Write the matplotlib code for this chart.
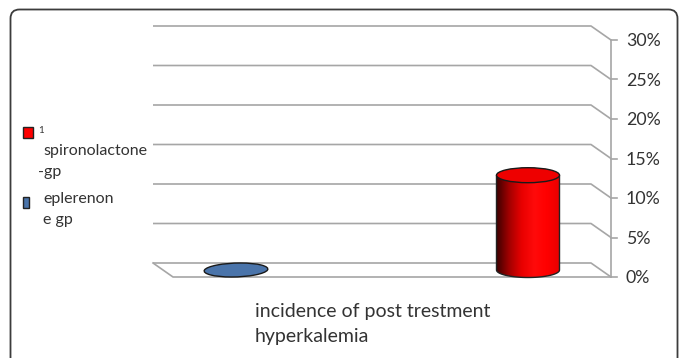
import numpy as np
import matplotlib
matplotlib.use("Agg")
import matplotlib.pyplot as plt
from matplotlib.patches import Ellipse, Rectangle, FancyBboxPatch, PathPatch
from matplotlib.path import Path
from matplotlib.transforms import IdentityTransform
from matplotlib.colors import LinearSegmentedColormap

# ---- data ----
categories = ["eplerenon gp", "spironolactone -gp"]
values = [0.0, 12.0]           # percent
tick_values = [0, 5, 10, 15, 20, 25, 30]
tick_labels = ["0%", "5%", "10%", "15%", "20%", "25%", "30%"]
axis_title = "incidence of post trestment\nhyperkalemia"

# ---- figure ----
W, H, DPI = 681, 358, 100
fig = plt.figure(figsize=(W / DPI, H / DPI), dpi=DPI)
ax = fig.add_axes([0, 0, 1, 1])
px_per_x = 292.0
px_per_y = 7.9
x0_px = 226.0
y0_px = 263.0
ax.set_xlim(-x0_px / px_per_x, (W - x0_px) / px_per_x)
ax.set_ylim(-(H - y0_px) / px_per_y, y0_px / px_per_y)
ax.axis("off")

dx = 20.0 / px_per_x
dy = 14.0 / px_per_y
xl, xr = -0.25, 1.25
grid_c = "#a6a6a6"
lw = 1.2

for t in tick_values:
    ax.plot([xl, xr, xr + dx], [t, t, t - dy], color=grid_c, lw=lw, zorder=1,
            solid_capstyle="butt")
    ax.plot([xr + dx, xr + dx + 6 / px_per_x], [t - dy, t - dy], color=grid_c, lw=lw, zorder=1)
ax.plot([xl, xl + dx, xr + dx], [0, -dy, -dy], color=grid_c, lw=lw, zorder=1)
ax.plot([xr + dx, xr + dx], [-dy, tick_values[-1] - dy], color=grid_c, lw=lw, zorder=1)
for t, lab in zip(tick_values, tick_labels):
    ax.text(xr + dx + 15 / px_per_x, t - dy - 0.15, lab, ha="left", va="center",
            fontsize=12.8, family="Lato", color="#333333")

# ---- bars (cylinders) ----
bw = 63.0 / px_per_x
eh = 15.0 / px_per_y
cmap = LinearSegmentedColormap.from_list(
    "cyl", ["#3a0000", "#a00000", "#e80000", "#ff0a0a", "#ff0000", "#e80000"])
face_cols = ["#4a74aa", "#ee0000"]
for i, v in enumerate(values):
    cx = i + dx / 2
    yb = -dy / 2
    yt = v - dy / 2
    if v > 0:
        th = np.linspace(np.pi, 2 * np.pi, 60)
        verts = [(cx - bw / 2, yt)]
        verts += [(cx + bw / 2 * np.cos(a), yb + eh / 2 * np.sin(a)) for a in th]
        verts += [(cx + bw / 2, yt), (cx - bw / 2, yt)]
        path = Path(verts, closed=True)
        body = PathPatch(path, facecolor="none", edgecolor="#222222", lw=1.0, zorder=3)
        ax.add_patch(body)
        grad = np.linspace(0, 1, 200).reshape(1, -1)
        im = ax.imshow(grad, cmap=cmap, aspect="auto", interpolation="bilinear",
                       extent=[cx - bw / 2, cx + bw / 2, yb - eh / 2, yt], zorder=2)
        im.set_clip_path(body)
        ax.add_patch(Ellipse((cx, yt), bw, eh, facecolor=face_cols[i],
                             edgecolor="#1a1a1a", lw=1.0, zorder=4))
    else:
        ax.add_patch(Ellipse((cx, yt), bw, 14.0 / px_per_y, angle=-1.0,
                             facecolor=face_cols[i], edgecolor="#1a1a1a", lw=1.0, zorder=4))

ax.set_xlim(-x0_px / px_per_x, (W - x0_px) / px_per_x)
ax.set_ylim(-(H - y0_px) / px_per_y, y0_px / px_per_y)

# ---- axis title ----
ax.text(255 / W, 1 - 303 / H, axis_title, transform=ax.transAxes, ha="left", va="top",
        fontsize=14, family="Lato", color="#333333", linespacing=1.6)

# ---- legend (manual) ----
def fx(px):
    return px / W
def fy(py):
    return 1 - py / H
ax.add_patch(Rectangle((fx(23), fy(138)), 10 / W, 11 / H, transform=ax.transAxes,
                       facecolor="#ff0000", edgecolor="#222222", lw=1.0, zorder=5))
ax.add_patch(Rectangle((fx(23), fy(208)), 6 / W, 11 / H, transform=ax.transAxes,
                       facecolor="#4a74aa", edgecolor="#222222", lw=1.0, zorder=5))
ax.text(fx(38), fy(131), "1", transform=ax.transAxes, fontsize=7, family="Lato",
        color="#333333", va="center", ha="left")
lkw = dict(transform=ax.transAxes, fontsize=11.5, family="Lato", color="#333333",
           va="center", ha="left")
ax.text(fx(43), fy(151), "spironolactone", **lkw)
ax.text(fx(38), fy(172), "-gp", **lkw)
ax.text(fx(43), fy(199), "eplerenon", **lkw)
ax.text(fx(43), fy(220), "e gp", **lkw)

# ---- outer rounded frame ----
frame = FancyBboxPatch((10.5, -30), 667, H - 9.5 + 30,
                       boxstyle="round,pad=0,rounding_size=9",
                       transform=IdentityTransform(), facecolor="none",
                       edgecolor="#3c3c3c", lw=1.3, zorder=10)
fig.patches.append(frame)

fig.savefig("out.png", dpi=DPI)
